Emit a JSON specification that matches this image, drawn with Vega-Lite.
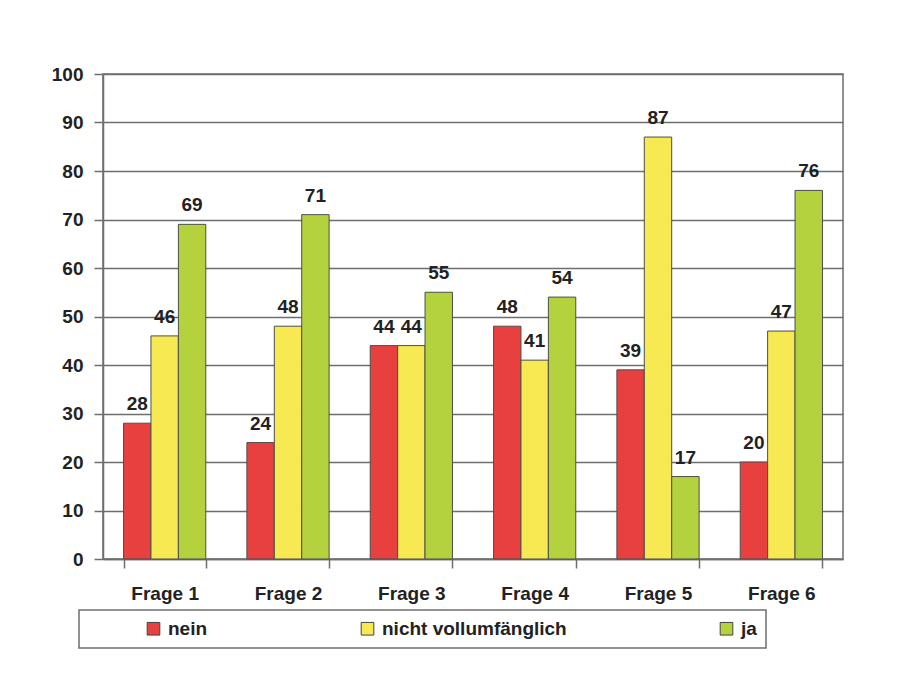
{
  "$schema": "https://vega.github.io/schema/vega-lite/v6.json",
  "width": 740,
  "height": 485,
  "autosize": {"type": "none"},
  "padding": {"left": 103, "top": 74, "right": 64, "bottom": 138},
  "background": "white",
  "config": {
    "font": "Liberation Sans",
    "view": {"stroke": "#6e6e6e", "strokeWidth": 1.5},
    "legend": {"strokeWidth": 1.5}
  },
  "data": {
    "values": [
      {"frage": "Frage 1", "antwort": "nein", "wert": 28},
      {"frage": "Frage 1", "antwort": "nicht vollumfänglich", "wert": 46},
      {"frage": "Frage 1", "antwort": "ja", "wert": 69},
      {"frage": "Frage 2", "antwort": "nein", "wert": 24},
      {"frage": "Frage 2", "antwort": "nicht vollumfänglich", "wert": 48},
      {"frage": "Frage 2", "antwort": "ja", "wert": 71},
      {"frage": "Frage 3", "antwort": "nein", "wert": 44},
      {"frage": "Frage 3", "antwort": "nicht vollumfänglich", "wert": 44},
      {"frage": "Frage 3", "antwort": "ja", "wert": 55},
      {"frage": "Frage 4", "antwort": "nein", "wert": 48},
      {"frage": "Frage 4", "antwort": "nicht vollumfänglich", "wert": 41},
      {"frage": "Frage 4", "antwort": "ja", "wert": 54},
      {"frage": "Frage 5", "antwort": "nein", "wert": 39},
      {"frage": "Frage 5", "antwort": "nicht vollumfänglich", "wert": 87},
      {"frage": "Frage 5", "antwort": "ja", "wert": 17},
      {"frage": "Frage 6", "antwort": "nein", "wert": 20},
      {"frage": "Frage 6", "antwort": "nicht vollumfänglich", "wert": 47},
      {"frage": "Frage 6", "antwort": "ja", "wert": 76}
    ]
  },
  "encoding": {
    "x": {
      "field": "frage",
      "type": "nominal",
      "sort": null,
      "scale": {"paddingInner": 0.3333, "paddingOuter": 0.1667},
      "axis": {
        "title": null,
        "labelAngle": 0,
        "tickBand": "extent",
        "grid": false,
        "domainColor": "#6e6e6e",
        "domainWidth": 1.5,
        "tickColor": "#6e6e6e",
        "tickWidth": 1.5,
        "tickSize": 9,
        "labelPadding": 16,
        "labelFontSize": 19,
        "labelFontWeight": "bold",
        "labelColor": "#222222"
      }
    },
    "xOffset": {"field": "antwort", "type": "nominal", "sort": ["nein", "nicht vollumfänglich", "ja"]},
    "y": {
      "field": "wert",
      "type": "quantitative",
      "scale": {"domain": [0, 100], "nice": false},
      "axis": {
        "title": null,
        "values": [0, 10, 20, 30, 40, 50, 60, 70, 80, 90, 100],
        "grid": true,
        "gridColor": "#6e6e6e",
        "gridWidth": 1.5,
        "gridOpacity": 1,
        "domainColor": "#6e6e6e",
        "domainWidth": 1.5,
        "tickColor": "#6e6e6e",
        "tickWidth": 1.5,
        "tickSize": 9,
        "labelPadding": 11,
        "labelFontSize": 19,
        "labelFontWeight": "bold",
        "labelColor": "#222222"
      }
    }
  },
  "layer": [
    {
      "mark": {"type": "bar", "stroke": "#4d4d4d", "strokeWidth": 1},
      "encoding": {
        "color": {
          "field": "antwort",
          "type": "nominal",
          "scale": {
            "domain": ["nein", "nicht vollumfänglich", "ja"],
            "range": ["#e8403f", "#f6e952", "#b4d23e"]
          },
          "legend": {
            "title": null,
            "orient": "none",
            "legendX": -24,
            "legendY": 536,
            "direction": "horizontal",
            "strokeColor": "#6e6e6e",
            "padding": 9,
            "columnPadding": 94,
            "symbolOffset": 56,
            "symbolType": "square",
            "symbolSize": 160,
            "symbolStrokeColor": "#444444",
            "symbolStrokeWidth": 1,
            "symbolOpacity": 1,
            "labelFontSize": 19,
            "labelFontWeight": "bold",
            "labelColor": "#222222",
            "labelOffset": 5,
            "labelLimit": 0
          }
        }
      }
    },
    {
      "mark": {"type": "text", "baseline": "alphabetic", "dy": -13, "fontSize": 19, "fontWeight": "bold", "color": "#222222"},
      "encoding": {"text": {"field": "wert", "type": "quantitative"}}
    }
  ]
}
